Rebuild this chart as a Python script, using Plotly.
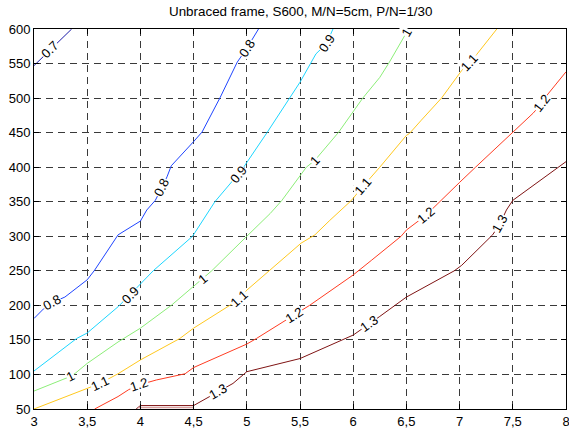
import math
import plotly.graph_objects as go

# ---------------- data ----------------
title_text = "Unbraced frame, S600, M/N=5cm, P/N=1/30"

x_ticks = [3, 3.5, 4, 4.5, 5, 5.5, 6, 6.5, 7, 7.5, 8]
x_tick_text = ["3", "3,5", "4", "4,5", "5", "5,5", "6", "6,5", "7", "7,5", "8"]
y_ticks = [50, 100, 150, 200, 250, 300, 350, 400, 450, 500, 550, 600]

levels = ["0.7", "0.8", "0.9", "1", "1.1", "1.2", "1.3"]

x_07 = [3.0, 3.15, 3.354]
y_07 = [547, 570, 600]
lab_07 = [1]

x_08 = [3.0, 3.09, 3.17, 3.29, 3.5, 3.57, 3.79, 4.0, 4.06, 4.14, 4.2, 4.25, 4.29,
        4.37, 4.43, 4.5, 4.58, 4.75, 4.91, 5.0, 5.11]
y_08 = [181, 195, 204, 212, 237, 251, 302, 322, 338, 352, 370, 386, 402,
        415, 425, 437, 451, 501, 552, 572, 600]
lab_08 = [2, 10, 19]

x_09 = [3.0, 3.4, 3.5, 3.79, 3.9, 4.0, 4.12, 4.49, 4.7, 4.92, 4.97, 5.19, 5.5,
        5.65, 5.75, 5.81]
y_09 = [105, 152, 160, 198, 215, 231, 250, 300, 350, 390, 400, 450, 523,
        564, 579, 600]
lab_09 = [4, 9, 14]

x_10 = [3.0, 3.26, 3.34, 3.39, 3.5, 3.79, 4.0, 4.29, 4.5, 4.58, 4.67, 5.0, 5.22,
        5.33, 5.56, 5.64, 5.86, 6.09, 6.25, 6.34, 6.5, 6.52]
y_10 = [76, 92, 97, 102, 116, 147, 167, 200, 228, 238, 250, 300, 333,
        352, 400, 410, 450, 500, 530, 552, 595, 600]
lab_10 = [2, 9, 15, 20]

x_11 = [3.0, 3.5, 3.62, 3.79, 4.0, 4.37, 4.5, 4.84, 4.93, 5.0, 5.22, 5.4, 5.51,
        5.64, 5.78, 5.97, 6.0, 6.09, 6.25, 6.5, 6.53, 6.64, 6.83, 7.02, 7.09,
        7.16, 7.35]
y_11 = [50, 80, 87, 101, 121, 152, 167, 200, 210, 222, 251, 275, 290,
        302, 323, 350, 355, 372, 400, 446, 449, 468, 500, 540, 552,
        563, 600]
lab_11 = [2, 8, 17, 24]

x_12 = [3.57, 3.79, 3.89, 3.99, 4.15, 4.42, 4.5, 5.0, 5.09, 5.37, 5.44, 5.59,
        6.0, 6.06, 6.17, 6.45, 6.5, 6.68, 6.81, 7.0, 7.15, 7.5, 7.69, 7.77,
        7.81, 8.0]
y_12 = [50, 68, 78, 85, 92, 101, 110, 144, 152, 179, 186, 200,
        244, 251, 265, 300, 309, 330, 350, 378, 400, 451, 478, 492,
        502, 538]
lab_12 = [3, 10, 17, 23]

x_13 = [3.96, 4.0, 4.5, 4.65, 4.73, 4.87, 5.0, 5.5, 6.0, 6.15, 6.25, 6.5, 6.95,
        7.02, 7.31, 7.38, 7.44, 7.5, 8.0]
y_13 = [50, 55, 55, 68, 75, 87, 104, 123, 157, 174, 184, 212, 250,
        258, 302, 318, 338, 352, 408]
lab_13 = [4, 9, 15]

x_13b = [3.98, 4.5]
y_13b = [52, 52]

xs = [x_07, x_08, x_09, x_10, x_11, x_12, x_13]
ys = [y_07, y_08, y_09, y_10, y_11, y_12, y_13]
labs = [lab_07, lab_08, lab_09, lab_10, lab_11, lab_12, lab_13]

# ---------------- style ----------------
colors = ["#1c1ca8", "#1f45ff", "#1cd6ff", "#8cee78", "#ffc81e", "#ff3c22", "#7f1414"]

W, H = 569, 430
ML, MR, MT, MB = 34, 3, 29, 21
PW = W - ML - MR
PH = H - MT - MB
XR = [3, 8]
YR = [50, 600]
FONT = "Liberation Sans, Arial, sans-serif"

fig = go.Figure()
for i in range(len(levels)):
    fig.add_trace(go.Scatter(x=xs[i], y=ys[i], mode="lines",
                             line=dict(color=colors[i], width=1),
                             hoverinfo="skip", showlegend=False))
fig.add_trace(go.Scatter(x=x_13b, y=y_13b, mode="lines",
                         line=dict(color="#d8a0a0", width=1.5),
                         hoverinfo="skip", showlegend=False))

annotations = []
for i in range(len(levels)):
    xv, yv = xs[i], ys[i]
    for k in labs[i]:
        a = max(k - 1, 0)
        b = min(k + 1, len(xv) - 1)
        dxp = (xv[b] - xv[a]) * PW / (XR[1] - XR[0])
        dyp = (yv[b] - yv[a]) * PH / (YR[1] - YR[0])
        ang = -math.degrees(math.atan2(dyp, dxp))
        annotations.append(dict(x=xv[k], y=yv[k], xref="x", yref="y",
                                text=levels[i], showarrow=False,
                                textangle=ang, bgcolor="white", borderpad=0,
                                font=dict(family=FONT, size=13, color="black")))

title_y_page = 12
annotations.append(dict(x=0.5, y=(H - MB - title_y_page) / PH, xref="paper", yref="paper",
                        text=title_text, showarrow=False, xanchor="center", yanchor="middle",
                        font=dict(family=FONT, size=13.4, color="black")))

axis_common = dict(showline=True, linecolor="black", linewidth=1, mirror="ticks",
                   ticks="inside", ticklen=5, tickcolor="black", automargin=False,
                   showgrid=True, gridcolor="#3a3a3a", gridwidth=1, griddash="7px,5px",
                   zeroline=False, ticklabeloverflow="allow",
                   tickfont=dict(family=FONT, size=13, color="black"))

fig.update_layout(
    width=W, height=H,
    margin=dict(l=ML, r=MR, t=MT, b=MB, pad=0, autoexpand=False),
    paper_bgcolor="white", plot_bgcolor="white",
    xaxis=dict(range=XR, tickvals=x_ticks, ticktext=x_tick_text, **axis_common),
    yaxis=dict(range=YR, tickvals=y_ticks, **axis_common),
    annotations=annotations,
    showlegend=False,
)

fig.write_html("out.html", config={"displayModeBar": False},
               post_script="document.body.style.margin='0';document.body.style.overflow='hidden';")
